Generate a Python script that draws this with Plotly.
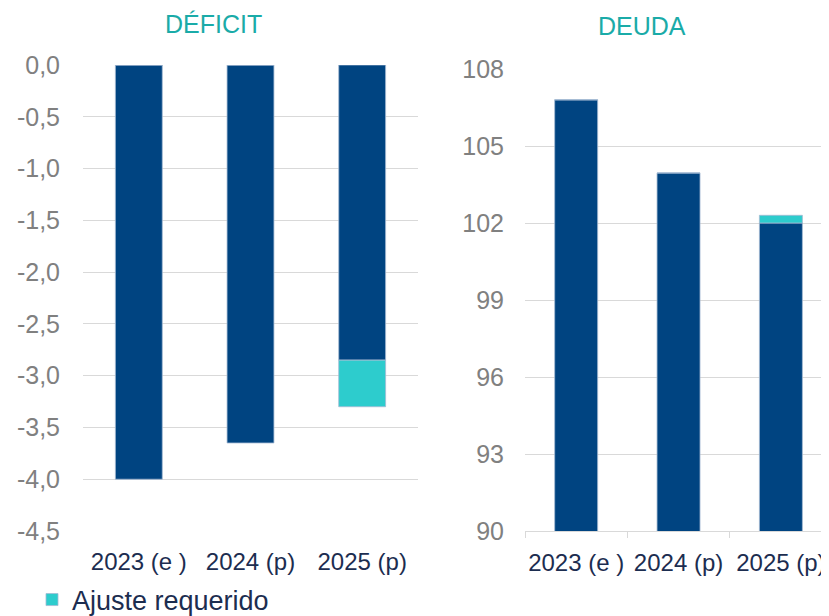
import plotly.graph_objects as go

years = ["2023 (e )", "2024 (p)", "2025 (p)"]

# Déficit (% PIB)
deficit_base = [-4.0, -3.65, -2.85]
deficit_ajuste = [0, 0, -0.45]
deficit_ticks = [0, -0.5, -1.0, -1.5, -2.0, -2.5, -3.0, -3.5, -4.0, -4.5]
deficit_ticklabels = ["0,0", "-0,5", "-1,0", "-1,5", "-2,0", "-2,5", "-3,0", "-3,5", "-4,0", "-4,5"]

# Deuda (% PIB)
deuda_base = [106.8, 103.95, 102.0]
deuda_ajuste = [0, 0, 0.3]
deuda_ticks = [90, 93, 96, 99, 102, 105, 108]

NAVY = "#004481"
AQUA = "#2dcccd"
TEAL = "#1aaba8"
GRID = "#d9d9d9"
FONT = "Arial, Liberation Sans, sans-serif"

fig = go.Figure()

edge = dict(color="#a4bad3", width=0.8)
fig.add_trace(go.Bar(x=years, y=deficit_base, marker=dict(color=NAVY, line=edge),
                     name="Déficit", showlegend=False, xaxis="x", yaxis="y"))
fig.add_trace(go.Bar(x=years, y=deficit_ajuste, marker=dict(color=AQUA, line=edge),
                     name="Ajuste requerido", showlegend=True, xaxis="x", yaxis="y"))
fig.add_trace(go.Bar(x=years, y=deuda_base, marker=dict(color=NAVY, line=edge),
                     name="Deuda", showlegend=False, xaxis="x2", yaxis="y2"))
fig.add_trace(go.Bar(x=years, y=deuda_ajuste, marker=dict(color=AQUA, line=edge),
                     name="Ajuste requerido", showlegend=False, xaxis="x2", yaxis="y2"))

# the page body adds an 8px margin, so the figure is 8px smaller and
# positions below are page pixels minus 8
W, H = 821, 608
OFF = 8


def px_x(x):
    return (x - OFF) / W


def px_y(y):
    return (H - (y - OFF)) / H


fig.update_layout(
    width=W, height=H,
    margin=dict(l=0, r=0, t=0, b=0, autoexpand=False),
    paper_bgcolor="white", plot_bgcolor="white",
    barmode="relative", bargap=0.58,
    font=dict(family=FONT),
    xaxis=dict(domain=[px_x(83), px_x(418)], range=[-0.5, 2.5], showgrid=False,
               showline=False, ticks="", ticklabelstandoff=14, tickangle=0,
               tickfont=dict(size=24, color="#1c2d50"), anchor="y"),
    xaxis3=dict(overlaying="x", side="top", type="linear", range=[-0.5, 2.5],
                tickvals=[-0.5, 0.5, 1.5, 2.5], ticks="inside", ticklen=6,
                tickcolor=GRID, showticklabels=False, showgrid=False,
                showline=False, anchor="y"),
    yaxis=dict(domain=[px_y(531), px_y(65)], range=[-4.5, 0], tickvals=deficit_ticks,
               ticktext=deficit_ticklabels, showgrid=True, gridcolor=GRID,
               gridwidth=1.3, zeroline=False, ticklabelstandoff=22,
               tickfont=dict(size=25, color="#808080"), anchor="x"),
    xaxis2=dict(domain=[px_x(525), 1], range=[-0.5, 2.47], showgrid=False,
                showline=True, linecolor=GRID, linewidth=1.3, ticks="outside",
                tickson="boundaries", ticklen=6, tickcolor=GRID, tickangle=0,
                ticklabelstandoff=10, tickfont=dict(size=24, color="#1c2d50"),
                anchor="y2"),
    yaxis2=dict(domain=[px_y(531), px_y(69)], range=[90, 108], tickvals=deuda_ticks,
                showgrid=True, gridcolor=GRID, gridwidth=1.3, zeroline=False,
                ticklabelstandoff=20, tickfont=dict(size=25, color="#808080"),
                anchor="x2"),
    showlegend=True,
    legend=dict(x=px_x(32), y=px_y(600), xanchor="left", yanchor="middle",
                orientation="h", font=dict(size=27, color="#1c2d50"),
                bgcolor="rgba(0,0,0,0)", itemwidth=30),
    annotations=[
        dict(text="DÉFICIT", x=px_x(213), y=px_y(24), xref="paper", yref="paper",
             showarrow=False, font=dict(size=25, color=TEAL), xanchor="center",
             yanchor="middle"),
        dict(text="DEUDA", x=px_x(642), y=px_y(26), xref="paper", yref="paper",
             showarrow=False, font=dict(size=25, color=TEAL), xanchor="center",
             yanchor="middle"),
    ],
)

fig.write_html("out.html")
